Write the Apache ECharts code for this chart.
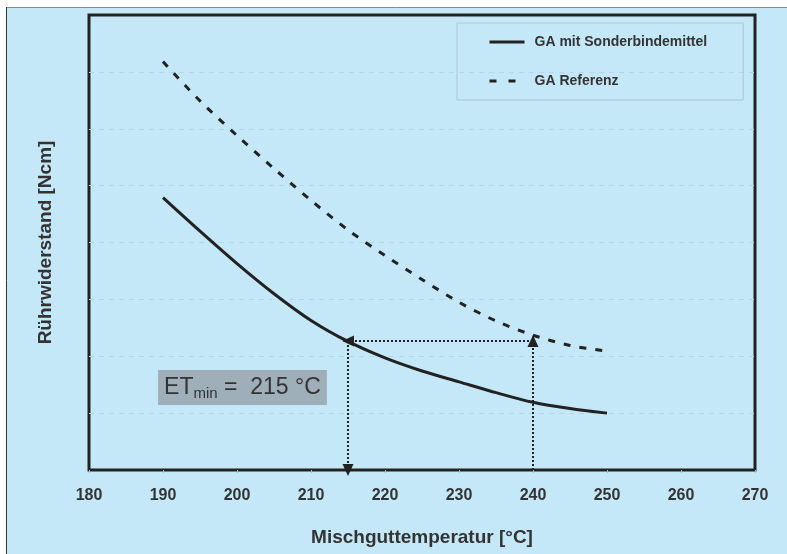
<!DOCTYPE html>
<html>
<head>
<meta charset="utf-8">
<title>Rührwiderstand</title>
<script src="https://cdn.jsdelivr.net/npm/echarts@6/dist/echarts.min.js"></script>
<style>
	html, body { margin: 0; padding: 0; background: #fff; }
	#main { width: 787px; height: 554px; }
</style>
</head>
<body>
<div id="main"></div>
<script>
	// Temperatur (x) und Rührwiderstand (y)
	var temps = [190, 195, 200, 205, 210, 215, 220, 225, 230, 235, 240, 245, 250];
	var sonder = [4.79, 4.20, 3.63, 3.10, 2.63, 2.26, 1.97, 1.74, 1.55, 1.36, 1.19, 1.08, 1.00];
	var referenz = [7.18, 6.49, 5.88, 5.30, 4.74, 4.22, 3.77, 3.35, 2.95, 2.62, 2.37, 2.19, 2.09];
	var xTicks = [180, 190, 200, 210, 220, 230, 240, 250, 260, 270];
	var seriesNames = ['GA mit Sonderbindemittel', 'GA Referenz'];

	// Ablesepfeile
	var etMin = 215, refTemp = 240, level = 2.27;

	var font = '"Liberation Sans", Arial, sans-serif';
	var ink = '#222';

	function pairs(ys) {
		var out = [];
		for (var i = 0; i < temps.length; i++) out.push([temps[i], ys[i]]);
		return out;
	}

	var myChart = echarts.init(document.getElementById('main'));

	var arrowLine = { type: [2, 2], width: 2, color: ink };

	var option = {
		backgroundColor: '#c5e8f9',
		animation: false,
		textStyle: { fontFamily: font },
		graphic: [
			// weißer Rand oben / links + dunkle Kante
			{ type: 'rect', shape: { x: 0, y: 0, width: 787, height: 7 }, style: { fill: '#fff' }, silent: true },
			{ type: 'rect', shape: { x: 0, y: 0, width: 6, height: 554 }, style: { fill: '#fff' }, silent: true },
			{ type: 'line', shape: { x1: 6, y1: 7.5, x2: 787, y2: 7.5 }, style: { stroke: '#888', lineWidth: 1 }, silent: true },
			{ type: 'line', shape: { x1: 6.5, y1: 7, x2: 6.5, y2: 554 }, style: { stroke: '#333', lineWidth: 1 }, silent: true }
		],
		grid: {
			left: 89, top: 15, right: 32, bottom: 84,
			show: true,
			borderWidth: 3,
			borderColor: ink,
			backgroundColor: 'transparent'
		},
		legend: {
			orient: 'vertical',
			left: 457, top: 23,
			padding: [12, 36, 12, 31],
			itemGap: 25,
			itemWidth: 35,
			itemHeight: 14,
			borderColor: '#a6c6d6',
			borderWidth: 1,
			itemStyle: { opacity: 0 },
			lineStyle: { width: 3 },
			textStyle: { fontSize: 14, fontWeight: 'bold', color: '#333', fontFamily: font, padding: [0, 0, 0, 5] },
			data: [
				{ name: seriesNames[0] },
				{ name: seriesNames[1], lineStyle: { width: 3, type: [7, 12] } }
			]
		},
		xAxis: {
			type: 'value',
			min: 180, max: 270, interval: 10,
			name: 'Mischguttemperatur [°C]',
			nameLocation: 'middle',
			nameGap: 58,
			nameTextStyle: { fontSize: 19, fontWeight: 'bold', color: '#333' },
			axisLine: { show: false },
			axisTick: { show: true, length: 3, lineStyle: { color: '#9fc0d0' } },
			axisLabel: {
				margin: 18, fontSize: 16, fontWeight: 'bold', color: '#333',
				formatter: function(v) { return xTicks.indexOf(v) >= 0 ? String(v) : ''; }
			},
			splitLine: { show: false }
		},
		yAxis: {
			type: 'value',
			min: 0, max: 8, interval: 1,
			name: 'Rührwiderstand [Ncm]',
			nameLocation: 'middle',
			nameGap: 34,
			nameTextStyle: { fontSize: 19, fontWeight: 'bold', color: '#333' },
			axisLine: { show: false },
			axisTick: { show: false },
			axisLabel: { show: false },
			splitLine: {
				show: true, showMinLine: false, showMaxLine: false,
				lineStyle: { type: [5, 5], color: '#b3d6e8', width: 1 }
			}
		},
		series: [
			{
				name: seriesNames[0],
				type: 'line',
				data: pairs(sonder),
				smooth: 0.3,
				symbol: 'none',
				lineStyle: { color: ink, width: 3 },
				z: 3,
				markLine: {
					silent: true,
					symbol: ['none', 'triangle'],
					symbolSize: [11, 12],
					label: { show: false },
					lineStyle: arrowLine,
					data: [
						[{ coord: [refTemp, level] }, { coord: [etMin, level] }],
						[{ coord: [etMin, level] }, { coord: [etMin, 0] }],
						[{ coord: [refTemp, 0] }, { coord: [refTemp, level] }]
					]
				},
				markPoint: {
					silent: true,
					symbol: 'rect',
					symbolSize: 0,
					data: [{ coord: [200.74, 1.45] }],
					label: {
						show: true,
						position: 'inside',
						backgroundColor: '#9eafba',
						padding: [4, 6, 4, 6],
						formatter: 'ET{sub|min} =  215 °C',
						fontSize: 23,
						color: '#333',
						fontFamily: font,
						rich: {
							sub: { fontSize: 15, verticalAlign: 'bottom', padding: [12, 0, 0, 0], color: '#333', fontFamily: font }
						}
					}
				}
			},
			{
				name: seriesNames[1],
				type: 'line',
				data: pairs(referenz),
				smooth: 0.3,
				symbol: 'none',
				lineStyle: { color: ink, width: 3, type: [7, 9] }
			}
		]
	};

	myChart.setOption(option);
</script>
</body>
</html>
